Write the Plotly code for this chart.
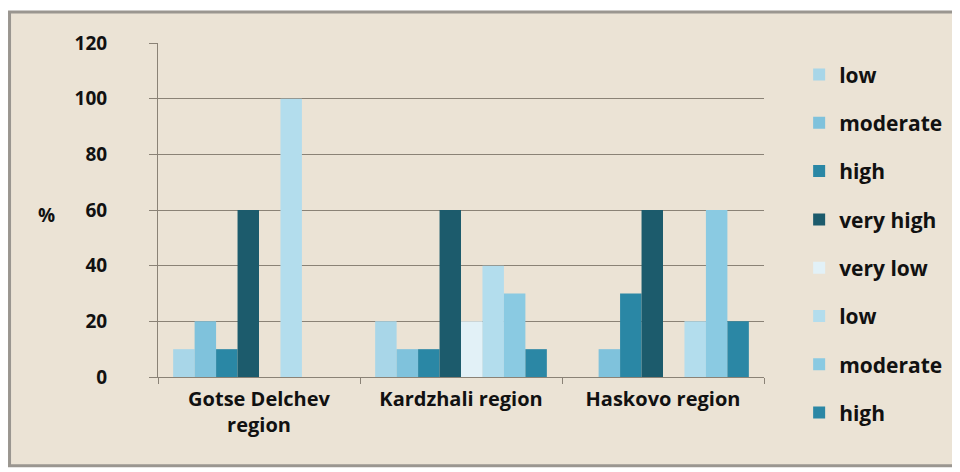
import plotly.graph_objects as go

regions = ["Gotse Delchev<br>region", "Kardzhali region", "Haskovo region"]
series_names = ["low", "moderate", "high", "very high", "very low", "low", "moderate", "high"]
series_values = [
    [10, 20, 0],
    [20, 10, 10],
    [10, 10, 30],
    [60, 60, 60],
    [0, 20, 0],
    [100, 40, 20],
    [0, 30, 60],
    [0, 10, 20],
]
series_colors = ["#a8d6e8", "#7fc2dc", "#2a87a5", "#1c5b6c",
                 "#e2f1f7", "#b3dded", "#8acae2", "#2b87a5"]
y_ticks = [0, 20, 40, 60, 80, 100, 120]

font_family = "'Open Sans', Lato, sans-serif"

fig = go.Figure()
for i, (name, vals, col) in enumerate(zip(series_names, series_values, series_colors)):
    fig.add_trace(go.Bar(
        x=regions, y=vals, name=name,
        marker=dict(color=col, line=dict(width=0)),
        legendgroup="g%d" % i,
    ))

# page body has an 8px margin, so the figure is 8px smaller each way
fig.update_layout(
    width=952, height=464,
    margin=dict(l=150, r=196, t=35, b=95),
    paper_bgcolor="white",
    plot_bgcolor="#dbd1c1",
    barmode="group", bargap=0.15, bargroupgap=0,
    font=dict(family=font_family, size=18, color="#111111"),
    legend=dict(
        x=1.058, y=0.966, xanchor="left", yanchor="top",
        bgcolor="rgba(0,0,0,0)",
        font=dict(family=font_family, size=21, color="#111111", weight="bold"),
        tracegroupgap=18, itemwidth=30, maxheight=440,
    ),
    showlegend=True,
)

fig.update_xaxes(
    automargin=False,
    showgrid=False, showline=True, linecolor="#8a8276", linewidth=1,
    ticks="outside", tickson="boundaries", ticklen=6, tickcolor="#8a8276",
    ticklabelstandoff=4,
    tickfont=dict(family=font_family, size=20, color="#111111", weight="bold"),
)
fig.update_yaxes(
    automargin=False,
    range=[0, 120], tickvals=y_ticks,
    showgrid=True, gridcolor="#8a8276", gridwidth=1,
    showline=True, linecolor="#8a8276", linewidth=1,
    ticks="outside", ticklen=8, tickcolor="#8a8276",
    ticklabelstandoff=38,
    tickfont=dict(family=font_family, size=19, color="#111111", weight="bold"),
    zeroline=False,
)

# background frame
fig.add_shape(type="rect", xref="paper", yref="paper",
              x0=-0.245, x1=1.314, y0=-0.266, y1=1.093,
              fillcolor="#ebe3d5", line=dict(color="#9a9690", width=3), layer="below")

fig.add_annotation(text="%", xref="paper", yref="paper", x=-0.202, y=0.485,
                   showarrow=False, font=dict(family=font_family, size=19, weight="bold"))

fig.write_html("out.html")
